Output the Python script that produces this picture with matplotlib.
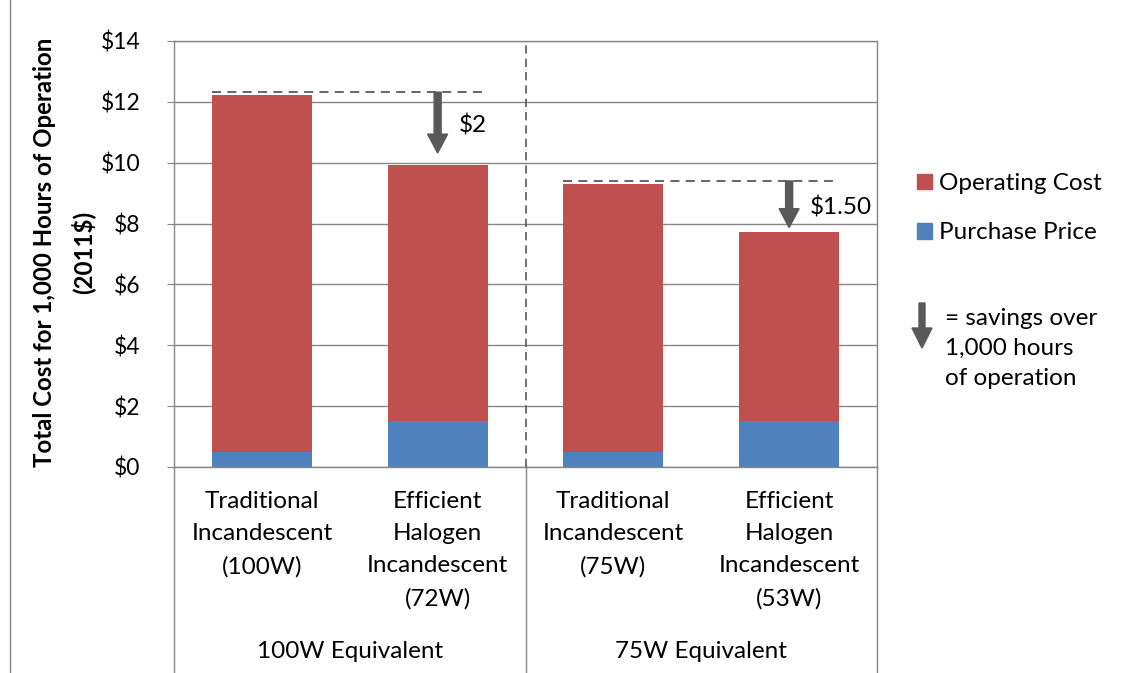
import matplotlib.pyplot as plt
from matplotlib.patches import Patch, FancyArrow
from matplotlib.lines import Line2D

plt.rcParams['font.family'] = ['Lato', 'DejaVu Sans']

# chart data
bulbs = [
    "Traditional\nIncandescent\n(100W)",
    "Efficient\nHalogen\nIncandescent\n(72W)",
    "Traditional\nIncandescent\n(75W)",
    "Efficient\nHalogen\nIncandescent\n(53W)",
]
groups = ["100W Equivalent", "75W Equivalent"]
purchase_price = [0.5, 1.5, 0.5, 1.5]
operating_cost = [11.72, 8.42, 8.80, 6.22]
savings_labels = ["$2", "$1.50"]
yticks = [0, 2, 4, 6, 8, 10, 12, 14]

red = "#c0504d"
blue = "#4f81bd"
grid_gray = "#868686"
dark_gray = "#595959"
fs = 17.5

W, H = 1135, 673
fig = plt.figure(figsize=(W / 100, H / 100), dpi=100)
ax = fig.add_axes([174 / W, 1 - 467 / H, (877 - 174) / W, (467 - 41) / H])

x = list(range(len(bulbs)))
totals = [p + o for p, o in zip(purchase_price, operating_cost)]
bar_w = 0.57

ax.bar(x, purchase_price, width=bar_w, color=blue, zorder=2)
ax.bar(x, operating_cost, width=bar_w, bottom=purchase_price, color=red, zorder=2)

ax.set_xlim(-0.5, len(bulbs) - 0.5)
ax.set_ylim(0, 14)
ax.set_yticks(yticks, ["$" + str(v) for v in yticks])
ax.yaxis.grid(True, color=grid_gray, lw=1)
ax.set_axisbelow(True)
for s in ax.spines.values():
    s.set_color(grid_gray)
    s.set_linewidth(1)
ax.tick_params(axis="y", length=5, color=grid_gray, pad=19, labelsize=16.5)
ax.set_xticks([])

xt = ax.get_xaxis_transform()
for xi, name in zip(x, bulbs):
    ax.text(xi, -(491 - 467) / 426, name, transform=xt, ha="center",
            va="top", fontsize=fs, linespacing=1.66)

# divider between the two groups
ax.axvline(1.5, color=dark_gray, lw=1.2, ls=(0, (5, 3)), zorder=3)
for xv in [-0.5, 1.5, len(bulbs) - 0.5]:
    ax.add_line(Line2D([xv, xv], [0, -467 / 426], transform=xt,
                       color=grid_gray, lw=1, clip_on=False))
for i, g in enumerate(groups):
    ax.text(2 * i + 0.5, -(651 - 467) / 426, g, transform=xt,
            ha="center", va="center", fontsize=fs)

# savings markers
gaps = [0.4, 0.15]
for i in range(2):
    a, b = 2 * i, 2 * i + 1
    top = totals[a] + 0.1
    tip = totals[b] + gaps[i]
    ax.plot([a - bar_w / 2, b + bar_w / 2], [top, top], color=dark_gray,
            lw=1.3, ls=(0, (5, 3.5)), zorder=3)
    ax.arrow(b, top, 0, -(top - tip), width=0.04, head_width=0.114,
             head_length=0.62, length_includes_head=True,
             color=dark_gray, zorder=4)
    ax.text(b + 0.12, (top + tip) / 2 - 0.1, savings_labels[i],
            ha="left", va="center", fontsize=fs)

fig.text(64 / W, 1 - 252 / H, "Total Cost for 1,000 Hours of Operation\n(2011$)",
         rotation=90, ha="center", va="center", fontsize=17.3,
         fontweight="bold", linespacing=1.65)

# legend
handles = [Patch(color=red), Patch(color=blue)]
fig.legend(handles, ["Operating Cost", "Purchase Price"], loc="upper left",
           bbox_to_anchor=(917 / W, 1 - 173 / H), frameon=False,
           fontsize=fs, handlelength=0.62, handleheight=0.62,
           handletextpad=0.3, labelspacing=1.17, borderpad=0,
           borderaxespad=0)

fig.add_artist(FancyArrow(922 / W, 1 - 303 / H, 0, -45 / H, width=6 / W,
                          head_width=20 / W, head_length=20 / H,
                          length_includes_head=True, color=dark_gray,
                          transform=fig.transFigure))
fig.text(945 / W, 1 - 308 / H, "= savings over\n1,000 hours\nof operation",
         ha="left", va="top", fontsize=fs, linespacing=1.53)

# outer chart border on the left
fig.add_artist(Line2D([10 / W, 10 / W], [0, 1], color=grid_gray, lw=1))

fig.savefig("out.png", dpi=100)
